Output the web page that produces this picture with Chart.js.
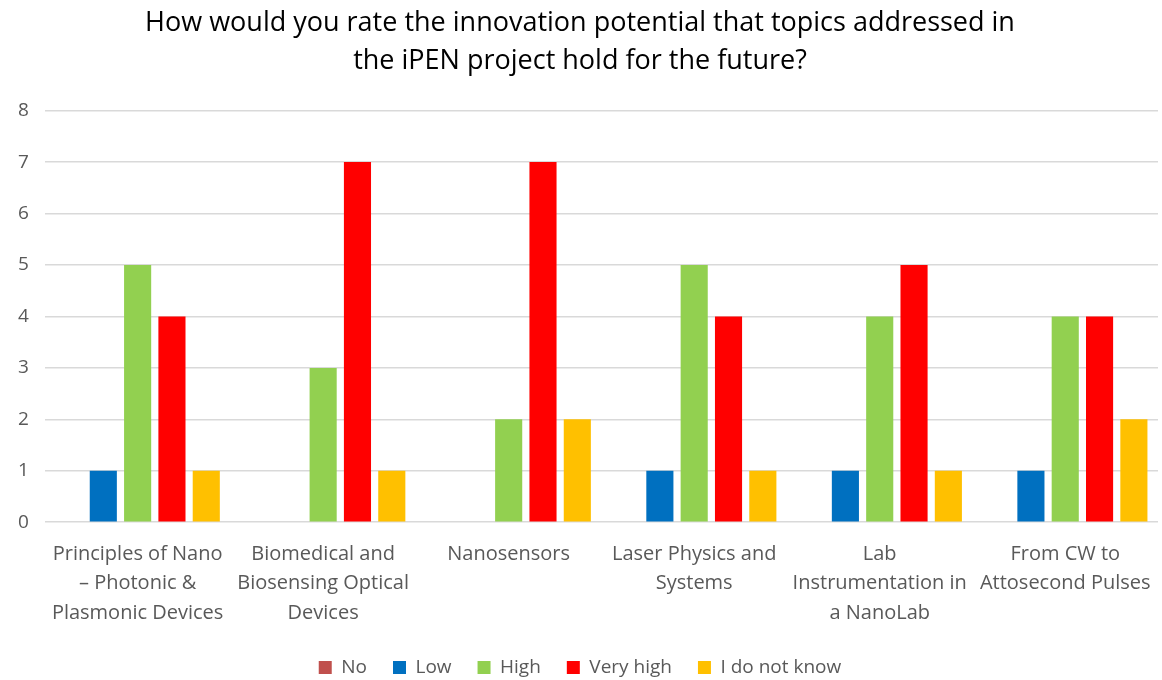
<!DOCTYPE html>
<html>
<head>
<meta charset="utf-8">
<script src="https://cdn.jsdelivr.net/npm/chart.js@4/dist/chart.umd.min.js"></script>
<style>
  html, body { margin: 0; padding: 0; background: #fff; }
  #wrap { width: 1162px; height: 680px; position: relative; }
</style>
</head>
<body>
<div id="wrap"><canvas id="c"></canvas></div>
<script>
// survey counts per topic
const CATEGORIES = [
  ['Principles of Nano', '\u2013 Photonic &', 'Plasmonic Devices'],
  ['Biomedical and', 'Biosensing Optical', 'Devices'],
  ['Nanosensors'],
  ['Laser Physics and', 'Systems'],
  ['Lab', 'Instrumentation in', 'a NanoLab'],
  ['From CW to', 'Attosecond Pulses'],
];
const NO        = [0, 0, 0, 0, 0, 0];
const LOW       = [1, 0, 0, 1, 1, 1];
const HIGH      = [5, 3, 2, 5, 4, 4];
const VERY_HIGH = [4, 7, 7, 4, 5, 4];
const DONT_KNOW = [1, 1, 2, 1, 1, 2];
const Y_TICKS   = [0, 1, 2, 3, 4, 5, 6, 7, 8];

const FONT = '"Open Sans", Lato, sans-serif';
const GREY = '#595959';

const ds = (label, data, color) => ({
  label, data, backgroundColor: color, borderWidth: 0,
  barPercentage: 0.79, categoryPercentage: 0.925,
});

new Chart(document.getElementById('c'), {
  type: 'bar',
  data: {
    labels: CATEGORIES,
    datasets: [
      ds('No', NO, '#C0504D'),
      ds('Low', LOW, '#0070C0'),
      ds('High', HIGH, '#92D050'),
      ds('Very high', VERY_HIGH, '#FF0000'),
      ds('I do not know', DONT_KNOW, '#FFC000'),
    ],
  },
  options: {
    responsive: true, maintainAspectRatio: false, animation: false,
    layout: { padding: { left: 2, right: 4, top: 0, bottom: -7 } },   // legend sits lower than its padding allows
    plugins: {
      title: {
        display: true,
        text: ['How would you rate the innovation potential that topics addressed in', 'the iPEN project hold for the future?'],
        color: '#000', font: { family: FONT, size: 27, weight: 'normal', lineHeight: 1.42 },
        padding: { top: 4, bottom: 30 },
      },
      legend: {
        position: 'bottom',
        labels: { color: GREY, font: { family: FONT, size: 19 }, boxWidth: 13, boxHeight: 13, padding: 26 },
      },
      tooltip: { enabled: false },
    },
    scales: {
      x: {
        grid: { display: false },
        border: { display: false },
        afterFit: (s) => { s.height -= 5; },
        ticks: { color: GREY, font: { family: FONT, size: 20, lineHeight: 1.48 }, autoSkip: false, maxRotation: 0, padding: 9 },
      },
      y: {
        min: 0, max: 8,
        afterBuildTicks: (ax) => { ax.ticks = Y_TICKS.map((v) => ({ value: v })); },
        grid: { color: '#d9d9d9', lineWidth: 1.5, drawTicks: false },
        border: { display: false },
        ticks: { color: GREY, font: { family: FONT, size: 19 }, padding: 16 },
      },
    },
  },
});
</script>
</body>
</html>
